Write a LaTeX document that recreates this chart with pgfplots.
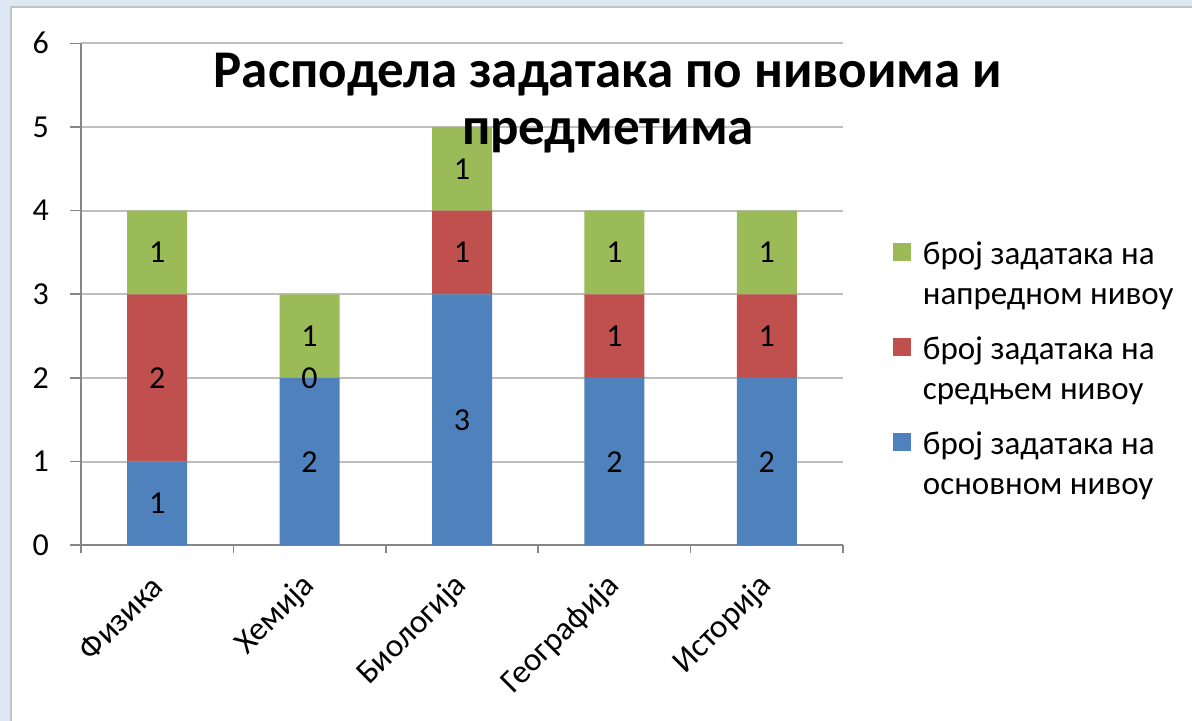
\documentclass[border=0pt]{standalone}
\usepackage{fontspec}
\setmainfont{Carlito}
\usepackage{pgfplots}
\pgfplotsset{compat=1.18}
\usepackage{pgfplotstable}
\definecolor{cblue}{HTML}{4F81BD}
\definecolor{cred}{HTML}{C0504D}
\definecolor{cgreen}{HTML}{9BBB59}
\definecolor{bgblue}{RGB}{221,232,245}
\definecolor{framegray}{RGB}{195,195,195}
\definecolor{gridgray}{RGB}{190,190,190}
\definecolor{axisgray}{RGB}{134,134,134}

\pgfplotstableread{
x osn sre nap
0 1 2 1
1 2 0 1
2 3 1 1
3 2 1 1
4 2 1 1
}\datatable

\pgfplotstableread{
x y lab
0 0.5 1
0 2 2
0 3.5 1
1 1 2
1 2 0
1 2.5 1
2 1.5 3
2 3.5 1
2 4.5 1
3 1 2
3 2.5 1
3 3.5 1
4 1 2
4 2.5 1
4 3.5 1
}\labeltable

\pgfplotsset{base/.style={scale only axis, width=381pt, height=251pt,
  xmin=-0.5, xmax=4.5, ymin=0, ymax=6, at={(40.5pt,87.85pt)}, anchor=south west}}

\begin{document}
\begin{tikzpicture}
\path[use as bounding box] (0,0) rectangle (596pt,360.5pt);
\fill[bgblue] (0,0) rectangle (596pt,360.5pt);
\filldraw[fill=white, draw=framegray, line width=1.2pt] (5.5pt,357pt) rectangle (620pt,-20pt);
\begin{axis}[base, ybar stacked, bar width=30pt,
  axis x line*=bottom, axis y line*=left, axis line style={axisgray, line width=0.8pt},
  ytick={0,...,6}, ymajorgrids, grid style={gridgray, line width=0.9pt},
  xtick={0,...,4}, xticklabels={Физика,Хемија,Биологија,Географија,Историја},
  major x tick style={draw=none},
  minor xtick={-0.5,0.5,...,4.5},
  tick align=outside, major tick length=5.5pt, minor tick length=4pt,
  tick style={axisgray, line width=0.8pt},
  xticklabel style={rotate=45, anchor=east, xshift=-5.3pt, yshift=-8.8pt, font=\fontsize{16.5}{19}\selectfont},
  yticklabel style={xshift=-7pt, font=\fontsize{16}{19}\selectfont},
  /pgf/number format/assume math mode=true,
  reverse legend,
  legend style={draw=none, fill=none, at={(1.065,0.624)}, anchor=north west,
    font=\fontsize{16.5}{20}\selectfont, row sep=28pt, column sep=4pt, inner sep=0pt},
  legend cell align=left,
  legend image code/.code={\fill[#1] (0pt,-4.5pt) rectangle (9pt,4.3pt);},
]
\addplot[fill=cblue, draw=none] table[x=x,y=osn]{\datatable};
\addlegendentry{\begin{tabular}[t]{@{}l@{}}број задатака на\\основном нивоу\end{tabular}}
\addplot[fill=cred, draw=none] table[x=x,y=sre]{\datatable};
\addlegendentry{\begin{tabular}[t]{@{}l@{}}број задатака на\\средњем нивоу\end{tabular}}
\addplot[fill=cgreen, draw=none] table[x=x,y=nap]{\datatable};
\addlegendentry{\begin{tabular}[t]{@{}l@{}}број задатака на\\напредном нивоу\end{tabular}}
\end{axis}
\begin{axis}[base, hide axis]
\addplot[draw=none, nodes near coords, point meta=explicit symbolic,
  every node near coord/.append style={anchor=center, font=\fontsize{16}{19}\selectfont}]
  table[x=x,y=y,meta=lab]{\labeltable};
\end{axis}
\node[font=\fontsize{26.5}{30}\selectfont\bfseries, anchor=base] at (304pt,316.5pt) {Расподела задатака по нивоима и};
\node[font=\fontsize{26.5}{30}\selectfont\bfseries, anchor=base] at (304pt,288pt) {предметима};
\end{tikzpicture}
\end{document}
